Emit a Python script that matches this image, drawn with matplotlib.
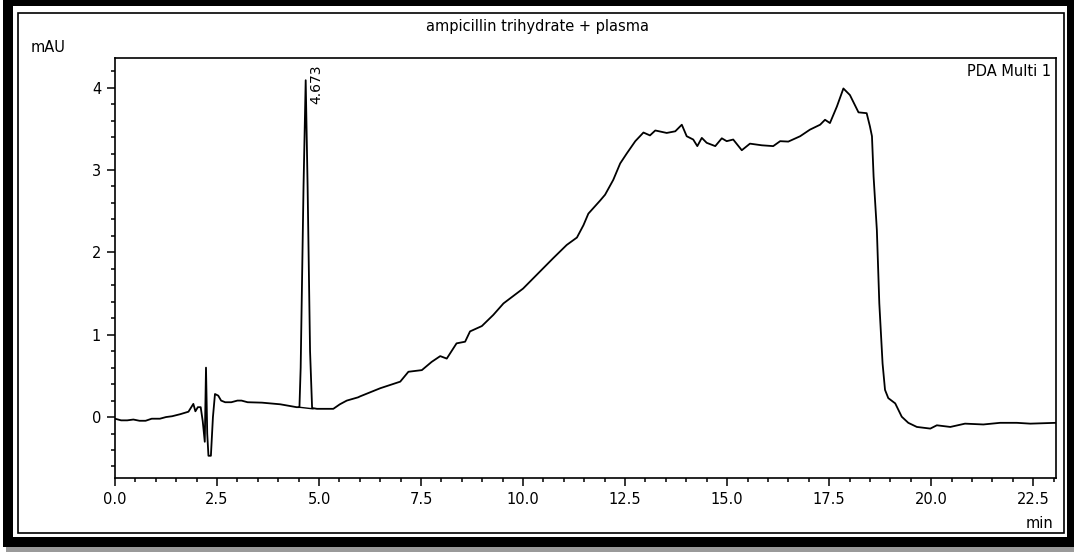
import matplotlib.pyplot as plt
from matplotlib.patches import Rectangle
from matplotlib.ticker import MultipleLocator

# chromatogram trace (min, mAU)
time = [0.00, 0.15, 0.30, 0.45, 0.60, 0.75, 0.90, 1.10, 1.25, 1.40, 1.60, 1.80,
        1.92, 1.97, 2.03, 2.10, 2.15, 2.20, 2.23, 2.26, 2.29, 2.35, 2.40, 2.45,
        2.53, 2.60, 2.70, 2.85, 3.00, 3.10, 3.25, 3.60, 4.05, 4.45, 4.52, 4.55,
        4.62, 4.673, 4.72, 4.78, 4.83, 4.95, 5.35, 5.51, 5.68, 5.96, 6.00, 6.50,
        6.99, 7.19, 7.52, 7.76, 7.97, 8.13, 8.37, 8.58, 8.70, 8.99, 9.27, 9.52,
        10.00, 10.33, 10.74, 11.07, 11.32, 11.48, 11.60, 11.89, 12.01, 12.21,
        12.38, 12.54, 12.75, 12.95, 13.11, 13.24, 13.52, 13.73, 13.89, 14.01,
        14.17, 14.27, 14.38, 14.50, 14.71, 14.87, 14.99, 15.15, 15.36, 15.56,
        15.85, 16.13, 16.30, 16.50, 16.79, 17.03, 17.28, 17.40, 17.52, 17.69,
        17.85, 18.01, 18.22, 18.42, 18.50, 18.55, 18.59, 18.67, 18.73, 18.81,
        18.87, 18.95, 19.12, 19.28, 19.44, 19.65, 19.98, 20.14, 20.47, 20.83,
        21.28, 21.69, 22.10, 22.43, 23.06]
signal = [-0.02, -0.04, -0.04, -0.03, -0.045, -0.045, -0.02, -0.02, 0.00, 0.01, 0.035, 0.065,
          0.16, 0.07, 0.12, 0.12, -0.05, -0.30, 0.60, -0.20, -0.47, -0.47, 0.00, 0.28,
          0.26, 0.20, 0.18, 0.18, 0.20, 0.20, 0.18, 0.175, 0.155, 0.12, 0.12, 0.60,
          2.80, 4.09, 2.80, 0.80, 0.11, 0.10, 0.10, 0.155, 0.20, 0.24, 0.25, 0.35,
          0.43, 0.55, 0.57, 0.67, 0.74, 0.71, 0.895, 0.915, 1.04, 1.105, 1.24, 1.38,
          1.56, 1.725, 1.93, 2.09, 2.18, 2.33, 2.47, 2.63, 2.70, 2.88,
          3.08, 3.20, 3.35, 3.455, 3.42, 3.48, 3.45, 3.47, 3.55, 3.41,
          3.37, 3.29, 3.39, 3.33, 3.29, 3.385, 3.35, 3.37, 3.24, 3.32,
          3.30, 3.29, 3.35, 3.345, 3.41, 3.49, 3.55, 3.61, 3.57, 3.77,
          3.99, 3.91, 3.70, 3.69, 3.53, 3.41, 2.92, 2.27, 1.38, 0.65,
          0.33, 0.23, 0.166, 0.004, -0.07, -0.12, -0.14, -0.10, -0.12, -0.08,
          -0.09, -0.07, -0.07, -0.08, -0.07]

# integration baseline under the labelled peak
base_t = [4.50, 4.85]
base_y = [0.12, 0.10]
peak_t = 4.673
peak_label = "4.673"

W, H = 1074, 552
fig = plt.figure(figsize=(W / 100, H / 100), dpi=100)


def box(x0, y0, x1, y1, **kw):
    # rectangle given in pixel coords (top-left origin), kept behind the axes
    fig.patches.append(Rectangle((x0 / W, 1 - y1 / H), (x1 - x0) / W, (y1 - y0) / H,
                                 transform=fig.transFigure, zorder=-10, **kw))


# frame with drop shadow
box(6, 540, 1074, 552, facecolor="#9a9a9a", edgecolor="none")
box(3, 0, 1074, 547, facecolor="black", edgecolor="none")
box(13, 6, 1067, 537, facecolor="white", edgecolor="none")
box(18, 13, 1064, 533, facecolor="none", edgecolor="black", linewidth=1.2)

ax = fig.add_axes([115 / W, 1 - 478 / H, (1056 - 115) / W, (478 - 58) / H])
ax.plot(time, signal, color="black", lw=1.3)
ax.plot(base_t, base_y, color="black", lw=1.0)

ax.set_xlim(0, 23.06)
ax.set_ylim(-0.74, 4.36)
ax.xaxis.set_major_locator(MultipleLocator(2.5))
ax.xaxis.set_minor_locator(MultipleLocator(0.5))
ax.yaxis.set_major_locator(MultipleLocator(1))
ax.yaxis.set_minor_locator(MultipleLocator(0.2))
ax.xaxis.set_major_formatter(plt.FormatStrFormatter("%.1f"))
ax.tick_params(which="major", length=6, width=1.1, labelsize=10.5, pad=4)
ax.tick_params(which="minor", length=3, width=1.1)
for s in ax.spines.values():
    s.set_linewidth(1.2)

ax.text(peak_t + 0.08, 3.80, peak_label, rotation=90, ha="left", va="bottom", fontsize=10)
ax.text(0.995, 0.985, "PDA Multi 1", transform=ax.transAxes, ha="right", va="top", fontsize=10.5)

fig.text(537 / W, 1 - 26 / H, "ampicillin trihydrate + plasma", ha="center", va="center", fontsize=10.5)
fig.text(31 / W, 1 - 47 / H, "mAU", ha="left", va="center", fontsize=10.5)
fig.text(1053 / W, 1 - 523 / H, "min", ha="right", va="center", fontsize=10.5)

fig.savefig("out.png", dpi=100)
